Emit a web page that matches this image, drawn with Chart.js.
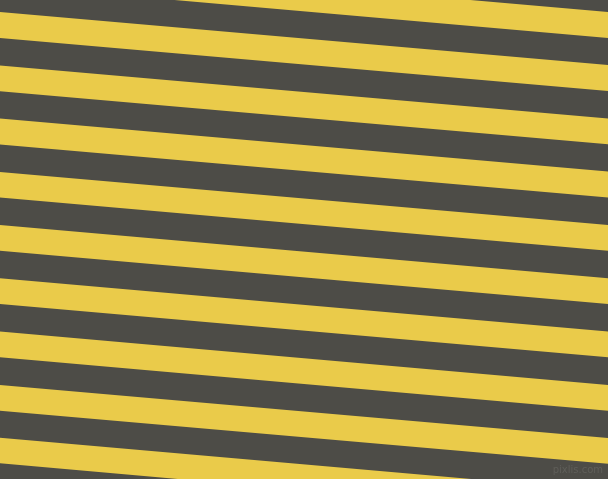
<!DOCTYPE html>
<html>
<head>
<meta charset="utf-8">
<script src="https://cdn.jsdelivr.net/npm/chart.js@4"></script>
<style>
  html, body { margin: 0; padding: 0; background: #4d4c47; overflow: hidden; }
  #wrap { position: relative; width: 608px; height: 479px; }
  #stripes { display: block; }
  #mark {
    position: absolute; right: 5px; bottom: 4px;
    font-family: "DejaVu Sans", sans-serif; font-size: 10px;
    color: #5f5e59; letter-spacing: 0;
  }
</style>
</head>
<body>
<div id="wrap">
  <canvas id="stripes" width="608" height="479"></canvas>
  <div id="mark">pixlis.com</div>
</div>
<script>
// Edge positions of the yellow bands (pixels from top)
const edgeX = [0, 608];
const yellowTopLeft = [-41, 12, 65.5, 118.5, 172, 225, 278.3, 331.6, 385, 437.7];
const yellowTopRight = [12, 65, 118.5, 171.5, 225, 278.3, 331.6, 385, 438, 491];
const yellowBottomLeft = [-15.3, 38, 91.2, 144.5, 197.5, 250.7, 304, 357.3, 410.7, 463.3];
const yellowBottomRight = [38, 91, 144.3, 197.5, 250.7, 304, 357.3, 410.7, 463.7, 517];

const yellow = '#eacb4a';

// Each band = a top line plus a bottom line filled back to the top one
const datasets = [];
yellowTopLeft.forEach((top, i) => {
  datasets.push({
    data: [{ x: edgeX[0], y: top }, { x: edgeX[1], y: yellowTopRight[i] }],
    borderWidth: 0,
    pointRadius: 0,
    fill: false
  });
  datasets.push({
    data: [{ x: edgeX[0], y: yellowBottomLeft[i] }, { x: edgeX[1], y: yellowBottomRight[i] }],
    borderWidth: 0,
    pointRadius: 0,
    backgroundColor: yellow,
    fill: '-1'
  });
});

new Chart(document.getElementById('stripes'), {
  type: 'line',
  data: { datasets: datasets },
  options: {
    responsive: false,
    animation: false,
    layout: { padding: 0 },
    plugins: { legend: { display: false }, tooltip: { enabled: false } },
    scales: {
      x: { type: 'linear', min: 0, max: 608, display: false },
      y: { type: 'linear', min: 0, max: 479, reverse: true, display: false }
    }
  }
});
</script>
</body>
</html>
